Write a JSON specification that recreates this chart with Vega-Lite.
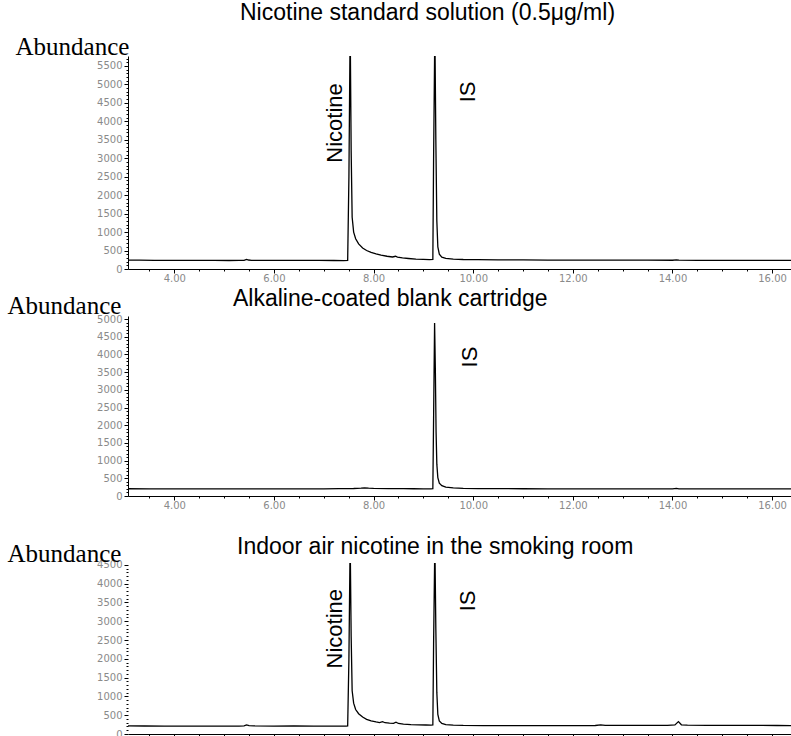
{
  "$schema": "https://vega.github.io/schema/vega-lite/v6.json",
  "padding": {"left": 7, "top": 2, "right": 0, "bottom": 0},
  "background": "white",
  "spacing": 47,
  "bounds": "flush",
  "config": {
    "view": {"stroke": null},
    "axis": {"grid": false, "domainColor": "black", "tickColor": "black", "labelFont": "DejaVu Sans", "labelFontSize": 10, "labelColor": "#8a8a8a", "labelOverlap": false, "labelFlush": false},
    "text": {"font": "Liberation Sans"}
  },
  "datasets": {
    "p1": [
      {"t": 3.07, "v": 240}, {"t": 3.3, "v": 238}, {"t": 3.6, "v": 236}, {"t": 3.9, "v": 235}, {"t": 4.2, "v": 233}, {"t": 4.5, "v": 232}, {"t": 4.8, "v": 231}, {"t": 5.1, "v": 230}, {"t": 5.3, "v": 231}, {"t": 5.4, "v": 236}, {"t": 5.45, "v": 262}, {"t": 5.49, "v": 244}, {"t": 5.55, "v": 236}, {"t": 5.7, "v": 234}, {"t": 6.0, "v": 233}, {"t": 6.3, "v": 234}, {"t": 6.6, "v": 232}, {"t": 6.9, "v": 231}, {"t": 7.2, "v": 230}, {"t": 7.4, "v": 229}, {"t": 7.48, "v": 232}, {"t": 7.505, "v": 2500}, {"t": 7.525, "v": 5770}, {"t": 7.535, "v": 5770}, {"t": 7.55, "v": 3200}, {"t": 7.57, "v": 1400}, {"t": 7.6, "v": 1000}, {"t": 7.64, "v": 820}, {"t": 7.7, "v": 680}, {"t": 7.78, "v": 570}, {"t": 7.86, "v": 500}, {"t": 7.95, "v": 450}, {"t": 8.05, "v": 410}, {"t": 8.15, "v": 375}, {"t": 8.27, "v": 345}, {"t": 8.38, "v": 325}, {"t": 8.44, "v": 345}, {"t": 8.48, "v": 322}, {"t": 8.58, "v": 300}, {"t": 8.7, "v": 285}, {"t": 8.85, "v": 270}, {"t": 9.0, "v": 262}, {"t": 9.12, "v": 256}, {"t": 9.19, "v": 258}, {"t": 9.205, "v": 3000}, {"t": 9.225, "v": 5770}, {"t": 9.235, "v": 5770}, {"t": 9.25, "v": 3500}, {"t": 9.27, "v": 1300}, {"t": 9.29, "v": 600}, {"t": 9.32, "v": 400}, {"t": 9.37, "v": 320}, {"t": 9.45, "v": 285}, {"t": 9.6, "v": 268}, {"t": 9.8, "v": 258}, {"t": 10.1, "v": 252}, {"t": 10.5, "v": 248}, {"t": 11.0, "v": 245}, {"t": 11.5, "v": 243}, {"t": 12.0, "v": 242}, {"t": 12.5, "v": 240}, {"t": 13.0, "v": 239}, {"t": 13.5, "v": 238}, {"t": 14.0, "v": 237}, {"t": 14.08, "v": 248}, {"t": 14.13, "v": 240}, {"t": 14.5, "v": 236}, {"t": 15.0, "v": 235}, {"t": 15.5, "v": 234}, {"t": 16.0, "v": 233}, {"t": 16.38, "v": 233}
    ],
    "p2": [
      {"t": 3.07, "v": 205}, {"t": 3.5, "v": 203}, {"t": 4.0, "v": 202}, {"t": 4.5, "v": 201}, {"t": 5.0, "v": 200}, {"t": 5.5, "v": 201}, {"t": 6.0, "v": 200}, {"t": 6.5, "v": 201}, {"t": 7.0, "v": 203}, {"t": 7.3, "v": 206}, {"t": 7.6, "v": 212}, {"t": 7.75, "v": 222}, {"t": 7.82, "v": 232}, {"t": 7.9, "v": 222}, {"t": 8.0, "v": 213}, {"t": 8.3, "v": 208}, {"t": 8.6, "v": 210}, {"t": 8.8, "v": 205}, {"t": 9.0, "v": 203}, {"t": 9.15, "v": 202}, {"t": 9.19, "v": 205}, {"t": 9.205, "v": 2200}, {"t": 9.225, "v": 4890}, {"t": 9.24, "v": 3600}, {"t": 9.255, "v": 1800}, {"t": 9.27, "v": 900}, {"t": 9.29, "v": 520}, {"t": 9.32, "v": 360}, {"t": 9.37, "v": 290}, {"t": 9.45, "v": 250}, {"t": 9.6, "v": 228}, {"t": 9.8, "v": 216}, {"t": 10.1, "v": 210}, {"t": 10.5, "v": 207}, {"t": 11.0, "v": 205}, {"t": 11.5, "v": 204}, {"t": 12.0, "v": 204}, {"t": 12.5, "v": 203}, {"t": 13.0, "v": 203}, {"t": 13.5, "v": 202}, {"t": 14.0, "v": 202}, {"t": 14.08, "v": 215}, {"t": 14.13, "v": 204}, {"t": 14.5, "v": 202}, {"t": 15.0, "v": 201}, {"t": 15.5, "v": 200}, {"t": 16.0, "v": 200}, {"t": 16.38, "v": 200}
    ],
    "p3": [
      {"t": 3.07, "v": 215}, {"t": 3.4, "v": 213}, {"t": 3.8, "v": 212}, {"t": 4.2, "v": 211}, {"t": 4.6, "v": 211}, {"t": 5.0, "v": 210}, {"t": 5.3, "v": 211}, {"t": 5.4, "v": 216}, {"t": 5.45, "v": 240}, {"t": 5.5, "v": 220}, {"t": 5.6, "v": 214}, {"t": 6.0, "v": 212}, {"t": 6.4, "v": 213}, {"t": 6.8, "v": 212}, {"t": 7.2, "v": 211}, {"t": 7.45, "v": 212}, {"t": 7.48, "v": 214}, {"t": 7.505, "v": 2000}, {"t": 7.525, "v": 4530}, {"t": 7.535, "v": 4530}, {"t": 7.55, "v": 2600}, {"t": 7.57, "v": 1150}, {"t": 7.6, "v": 820}, {"t": 7.64, "v": 650}, {"t": 7.7, "v": 540}, {"t": 7.78, "v": 450}, {"t": 7.86, "v": 390}, {"t": 7.95, "v": 350}, {"t": 8.05, "v": 320}, {"t": 8.12, "v": 305}, {"t": 8.18, "v": 330}, {"t": 8.23, "v": 300}, {"t": 8.32, "v": 290}, {"t": 8.4, "v": 285}, {"t": 8.45, "v": 315}, {"t": 8.5, "v": 280}, {"t": 8.6, "v": 265}, {"t": 8.75, "v": 252}, {"t": 8.9, "v": 245}, {"t": 9.05, "v": 240}, {"t": 9.15, "v": 238}, {"t": 9.19, "v": 240}, {"t": 9.205, "v": 2400}, {"t": 9.225, "v": 4530}, {"t": 9.235, "v": 4530}, {"t": 9.25, "v": 2800}, {"t": 9.27, "v": 1100}, {"t": 9.29, "v": 520}, {"t": 9.32, "v": 350}, {"t": 9.37, "v": 280}, {"t": 9.45, "v": 250}, {"t": 9.6, "v": 236}, {"t": 9.8, "v": 228}, {"t": 10.2, "v": 225}, {"t": 10.7, "v": 224}, {"t": 11.2, "v": 223}, {"t": 11.7, "v": 223}, {"t": 12.2, "v": 224}, {"t": 12.45, "v": 226}, {"t": 12.56, "v": 245}, {"t": 12.65, "v": 228}, {"t": 13.0, "v": 230}, {"t": 13.5, "v": 232}, {"t": 13.9, "v": 231}, {"t": 14.05, "v": 240}, {"t": 14.12, "v": 330}, {"t": 14.18, "v": 245}, {"t": 14.3, "v": 235}, {"t": 14.7, "v": 232}, {"t": 15.2, "v": 230}, {"t": 15.7, "v": 228}, {"t": 16.1, "v": 226}, {"t": 16.38, "v": 225}
    ],
    "l1": [
      {"label": "Nicotine", "t": 7.23, "v": 3957},
      {"label": "IS", "t": 9.9, "v": 4797}
    ],
    "l2": [
      {"label": "IS", "t": 9.93, "v": 3927}
    ],
    "l3": [
      {"label": "Nicotine", "t": 7.23, "v": 2800},
      {"label": "IS", "t": 9.9, "v": 3540}
    ]
  },
  "vconcat": [
    {
      "width": 663,
      "height": 213,
      "title": {"text": "Nicotine standard solution (0.5μg/ml)", "frame": "group", "anchor": "start", "dx": 112, "offset": 0, "dy": 9, "baseline": "alphabetic", "font": "Liberation Sans", "fontSize": 23, "fontWeight": "normal", "color": "black"},
      "resolve": {"axis": {"x": "independent", "y": "independent"}},
      "layer": [
        {
          "data": {"name": "p1"},
          "mark": {"type": "line", "color": "black", "strokeWidth": 1.3, "clip": true},
          "encoding": {
            "x": {"field": "t", "type": "quantitative", "scale": {"domain": [3.07, 16.38], "nice": false, "zero": false},
                  "axis": {"values": [4, 6, 8, 10, 12, 14, 16], "format": ".2f", "title": null, "tickSize": 4, "labelPadding": 0}},
            "y": {"field": "v", "type": "quantitative", "scale": {"domain": [0, 5770], "nice": false},
                  "axis": {"values": [0, 500, 1000, 1500, 2000, 2500, 3000, 3500, 4000, 4500, 5000, 5500], "format": "d", "tickSize": 4, "labelPadding": 2,
                           "title": "Abundance", "titleAngle": 0, "titleX": -113, "titleY": -2, "titleAlign": "left", "titleBaseline": "alphabetic", "titleFont": "Liberation Serif", "titleFontSize": 25, "titleFontWeight": "normal", "titleColor": "black"}}
          }
        },
        {
          "data": {"name": "p1"},
          "mark": {"type": "line", "strokeOpacity": 0},
          "encoding": {
            "x": {"field": "t", "type": "quantitative", "axis": {"orient": "bottom", "values": [3.5, 4.5, 5, 5.5, 6.5, 7, 7.5, 8.5, 9, 9.5, 10.5, 11, 11.5, 12.5, 13, 13.5, 14.5, 15, 15.5, 16], "labels": false, "domain": false, "tickSize": 2, "title": null}},
            "y": {"field": "v", "type": "quantitative", "axis": {"orient": "left", "values": [100, 200, 300, 400, 600, 700, 800, 900, 1100, 1200, 1300, 1400, 1600, 1700, 1800, 1900, 2100, 2200, 2300, 2400, 2600, 2700, 2800, 2900, 3100, 3200, 3300, 3400, 3600, 3700, 3800, 3900, 4100, 4200, 4300, 4400, 4600, 4700, 4800, 4900, 5100, 5200, 5300, 5400, 5600, 5700], "labels": false, "domain": false, "tickSize": 2, "title": null}}
          }
        },
        {
          "data": {"name": "l1"},
          "mark": {"type": "text", "angle": 270, "align": "center", "baseline": "middle", "fontSize": 22, "font": "Liberation Sans", "color": "black"},
          "encoding": {
            "x": {"field": "t", "type": "quantitative", "axis": null},
            "y": {"field": "v", "type": "quantitative", "axis": null},
            "text": {"field": "label"}
          }
        }
      ]
    },
    {
      "width": 663,
      "height": 180,
      "title": {"text": "Alkaline-coated blank cartridge", "frame": "group", "anchor": "start", "dx": 105, "offset": 0, "dy": 36, "baseline": "alphabetic", "font": "Liberation Sans", "fontSize": 23, "fontWeight": "normal", "color": "black"},
      "resolve": {"axis": {"x": "independent", "y": "independent"}},
      "layer": [
        {
          "data": {"name": "p2"},
          "mark": {"type": "line", "color": "black", "strokeWidth": 1.3, "clip": true},
          "encoding": {
            "x": {"field": "t", "type": "quantitative", "scale": {"domain": [3.07, 16.38], "nice": false, "zero": false},
                  "axis": {"values": [4, 6, 8, 10, 12, 14, 16], "format": ".2f", "title": null, "tickSize": 4, "labelPadding": 0}},
            "y": {"field": "v", "type": "quantitative", "scale": {"domain": [0, 5085], "nice": false},
                  "axis": {"values": [0, 500, 1000, 1500, 2000, 2500, 3000, 3500, 4000, 4500, 5000], "format": "d", "tickSize": 4, "labelPadding": 2,
                           "title": "Abundance", "titleAngle": 0, "titleX": -121, "titleY": -3, "titleAlign": "left", "titleBaseline": "alphabetic", "titleFont": "Liberation Serif", "titleFontSize": 25, "titleFontWeight": "normal", "titleColor": "black"}}
          }
        },
        {
          "data": {"name": "p2"},
          "mark": {"type": "line", "strokeOpacity": 0},
          "encoding": {
            "x": {"field": "t", "type": "quantitative", "axis": {"orient": "bottom", "values": [3.5, 4.5, 5, 5.5, 6.5, 7, 7.5, 8.5, 9, 9.5, 10.5, 11, 11.5, 12.5, 13, 13.5, 14.5, 15, 15.5, 16], "labels": false, "domain": false, "tickSize": 2, "title": null}},
            "y": {"field": "v", "type": "quantitative", "axis": {"orient": "left", "values": [100, 200, 300, 400, 600, 700, 800, 900, 1100, 1200, 1300, 1400, 1600, 1700, 1800, 1900, 2100, 2200, 2300, 2400, 2600, 2700, 2800, 2900, 3100, 3200, 3300, 3400, 3600, 3700, 3800, 3900, 4100, 4200, 4300, 4400, 4600, 4700, 4800, 4900], "labels": false, "domain": false, "tickSize": 2, "title": null}}
          }
        },
        {
          "data": {"name": "l2"},
          "mark": {"type": "text", "angle": 270, "align": "center", "baseline": "middle", "fontSize": 22, "font": "Liberation Sans", "color": "black"},
          "encoding": {
            "x": {"field": "t", "type": "quantitative", "axis": null},
            "y": {"field": "v", "type": "quantitative", "axis": null},
            "text": {"field": "label"}
          }
        }
      ]
    },
    {
      "width": 663,
      "height": 191,
      "title": {"text": "Indoor air nicotine in the smoking room", "frame": "group", "anchor": "start", "dx": 109, "offset": 0, "dy": 36, "baseline": "alphabetic", "font": "Liberation Sans", "fontSize": 23, "fontWeight": "normal", "color": "black"},
      "resolve": {"axis": {"x": "independent", "y": "independent"}},
      "layer": [
        {
          "data": {"name": "p3"},
          "mark": {"type": "line", "color": "black", "strokeWidth": 1.3, "clip": true},
          "encoding": {
            "x": {"field": "t", "type": "quantitative", "scale": {"domain": [3.07, 16.38], "nice": false, "zero": false},
                  "axis": {"values": [4, 6, 8, 10, 12, 14, 16], "format": ".2f", "title": null, "tickSize": 4, "labelPadding": 0}},
            "y": {"field": "v", "type": "quantitative", "scale": {"domain": [0, 5080], "nice": false},
                  "axis": {"values": [0, 500, 1000, 1500, 2000, 2500, 3000, 3500, 4000, 4500], "format": "d", "tickSize": 4, "labelPadding": 2, "domain": false,
                           "title": "Abundance", "titleAngle": 0, "titleX": -121, "titleY": 18, "titleAlign": "left", "titleBaseline": "alphabetic", "titleFont": "Liberation Serif", "titleFontSize": 25, "titleFontWeight": "normal", "titleColor": "black"}}
          }
        },
        {
          "data": {"name": "p3"},
          "mark": {"type": "line", "strokeOpacity": 0},
          "encoding": {
            "x": {"field": "t", "type": "quantitative", "axis": {"orient": "bottom", "values": [3.5, 4.5, 5, 5.5, 6.5, 7, 7.5, 8.5, 9, 9.5, 10.5, 11, 11.5, 12.5, 13, 13.5, 14.5, 15, 15.5, 16], "labels": false, "domain": false, "tickSize": 2, "title": null}},
            "y": {"field": "v", "type": "quantitative", "axis": {"orient": "left", "values": [100, 200, 300, 400, 600, 700, 800, 900, 1100, 1200, 1300, 1400, 1600, 1700, 1800, 1900, 2100, 2200, 2300, 2400, 2600, 2700, 2800, 2900, 3100, 3200, 3300, 3400, 3600, 3700, 3800, 3900, 4100, 4200, 4300, 4400], "labels": false, "domain": false, "tickSize": 2, "title": null}}
          }
        },
        {
          "mark": {"type": "rule", "color": "black", "strokeWidth": 1},
          "encoding": {
            "x": {"datum": 3.07, "type": "quantitative", "axis": null},
            "y": {"datum": 0, "type": "quantitative", "axis": null},
            "y2": {"datum": 4530}
          }
        },
        {
          "data": {"name": "l3"},
          "mark": {"type": "text", "angle": 270, "align": "center", "baseline": "middle", "fontSize": 22, "font": "Liberation Sans", "color": "black"},
          "encoding": {
            "x": {"field": "t", "type": "quantitative", "axis": null},
            "y": {"field": "v", "type": "quantitative", "axis": null},
            "text": {"field": "label"}
          }
        }
      ]
    }
  ]
}
